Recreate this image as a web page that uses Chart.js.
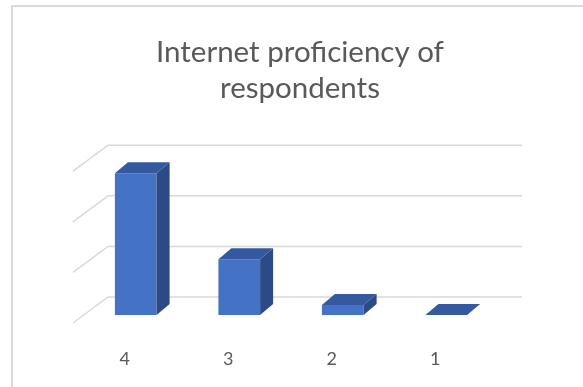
<!DOCTYPE html>
<html>
<head>
<meta charset="utf-8">
<script src="https://cdn.jsdelivr.net/npm/chart.js@4.4.1/dist/chart.umd.min.js"></script>
<style>
  html, body { margin: 0; padding: 0; background: #fff; }
  #wrap { width: 583px; height: 387px; }
</style>
</head>
<body>
<div id="wrap"><canvas id="chart"></canvas></div>
<script>
const categories = ['4', '3', '2', '1'];
const respondents = [28, 11, 2, 0];
const gridValues = [0, 10, 20, 30];

// oblique 3D look: bar depth, and where the back wall / floor front edge sit
const depth = { dx: 13, dy: -11 };
const backWall = { dx: 24, dy: -18 };
const frontEdge = { dx: -11, dy: 8 };

const box3d = {
  id: 'box3d',
  beforeDraw(chart) {
    // chart frame, only its top and left edges are in view
    const ctx = chart.ctx;
    ctx.save();
    ctx.strokeStyle = '#d9d9d9';
    ctx.lineWidth = 2;
    ctx.beginPath();
    ctx.moveTo(12, chart.height);
    ctx.lineTo(12, 6);
    ctx.lineTo(chart.width, 6);
    ctx.stroke();
    ctx.restore();
  },
  beforeDatasetsDraw(chart) {
    const { ctx, chartArea, scales: { y } } = chart;
    ctx.save();
    ctx.strokeStyle = '#d9d9d9';
    ctx.lineWidth = 1.5;
    gridValues.forEach(v => {
      const py = y.getPixelForValue(v);
      ctx.beginPath();
      ctx.moveTo(chartArea.left + frontEdge.dx, py + frontEdge.dy);
      ctx.lineTo(chartArea.left + backWall.dx, py + backWall.dy);
      ctx.lineTo(chartArea.right + backWall.dx, py + backWall.dy);
      ctx.stroke();
    });
    ctx.restore();
  },
  afterDatasetsDraw(chart) {
    const ctx = chart.ctx;
    const meta = chart.getDatasetMeta(0);
    ctx.save();
    meta.data.forEach(bar => {
      const { x, y, base, width } = bar.getProps(['x', 'y', 'base', 'width'], true);
      const l = x - width / 2, r = x + width / 2;
      // top face
      ctx.fillStyle = '#34599f';
      ctx.beginPath();
      ctx.moveTo(l, y);
      ctx.lineTo(r, y);
      ctx.lineTo(r + depth.dx, y + depth.dy);
      ctx.lineTo(l + depth.dx, y + depth.dy);
      ctx.closePath();
      ctx.fill();
      // right side face
      ctx.fillStyle = '#2c4b86';
      ctx.beginPath();
      ctx.moveTo(r, y);
      ctx.lineTo(r + depth.dx, y + depth.dy);
      ctx.lineTo(r + depth.dx, base + depth.dy);
      ctx.lineTo(r, base);
      ctx.closePath();
      ctx.fill();
    });
    ctx.restore();
  }
};

new Chart(document.getElementById('chart'), {
  type: 'bar',
  data: {
    labels: categories,
    datasets: [{
      data: respondents,
      backgroundColor: '#4472c4',
      borderWidth: 0,
      barPercentage: 0.403,
      categoryPercentage: 1
    }]
  },
  options: {
    responsive: true,
    maintainAspectRatio: false,
    animation: false,
    layout: { padding: { left: 84, right: 67, top: 0, bottom: 17 } },
    plugins: {
      legend: { display: false },
      tooltip: { enabled: false },
      title: {
        display: true,
        text: ['Internet proficiency of', 'respondents'],
        color: '#595959',
        font: { family: 'Lato', size: 29.5, weight: 'normal', lineHeight: 1.24 },
        padding: { top: 34, bottom: 56 }
      }
    },
    scales: {
      x: {
        grid: { display: false, drawTicks: false },
        border: { display: false },
        ticks: { color: '#595959', font: { family: 'Lato', size: 18 }, padding: 33, labelOffset: -11 },
        afterFit: scale => { scale.height = 55; }
      },
      // value axis kept invisible; it only reserves room on the right for the back wall
      y: {
        position: 'right',
        min: 0,
        max: 30,
        ticks: { stepSize: 10, display: false },
        grid: { display: false },
        border: { display: false },
        afterFit: scale => { scale.width = 18; }
      }
    }
  },
  plugins: [box3d]
});
</script>
</body>
</html>
